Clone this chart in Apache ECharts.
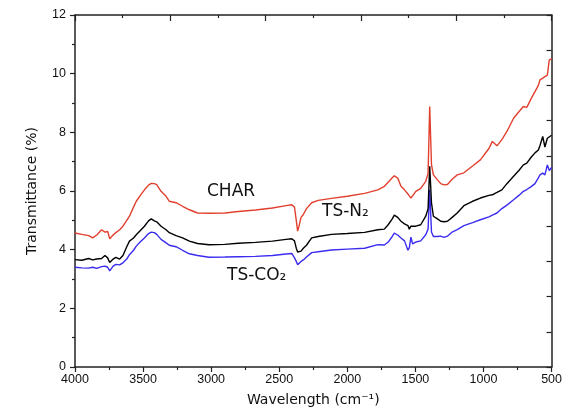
<!DOCTYPE html>
<html>
<head>
<meta charset="utf-8">
<script src="https://cdn.jsdelivr.net/npm/echarts@6/dist/echarts.min.js"></script>
<style>
  html, body { margin: 0; padding: 0; background: #fff; }
  #main { width: 565px; height: 417px; }
</style>
</head>
<body>
<div id="main"></div>
<script>
// wavenumber (cm-1)
var wavenumbers = [4000, 3950, 3900, 3870, 3840, 3805, 3780, 3760, 3745, 3720, 3700, 3672, 3648, 3620, 3600,
  3570, 3550, 3520, 3490, 3460, 3440, 3417, 3400, 3368, 3331, 3307, 3258, 3210, 3160, 3100, 3016,
  2900, 2800, 2675, 2550, 2450, 2408, 2388, 2375, 2365, 2355, 2340, 2323, 2300, 2262, 2214, 2116,
  2000, 1873, 1776, 1728, 1700, 1670, 1655, 1630, 1606, 1580, 1570, 1555, 1545, 1533, 1521, 1497,
  1461, 1424, 1407, 1395, 1382, 1368, 1338, 1314, 1290, 1265, 1230, 1193, 1144, 1080, 1023, 960,
  935, 901, 865, 828, 779, 740, 707, 682, 650, 622, 597, 585, 565, 549, 531, 517, 500];

var charValues = [4.57, 4.52, 4.48, 4.40, 4.50, 4.68, 4.60, 4.62, 4.37, 4.50, 4.58, 4.68, 4.80, 5.00, 5.14,
  5.45, 5.65, 5.85, 6.04, 6.20, 6.26, 6.25, 6.22, 5.99, 5.82, 5.65, 5.60, 5.48, 5.36, 5.25, 5.24,
  5.25, 5.30, 5.35, 5.42, 5.50, 5.53, 5.45, 5.00, 4.63, 4.80, 5.10, 5.20, 5.40, 5.60, 5.68, 5.75,
  5.82, 5.92, 6.04, 6.16, 6.30, 6.45, 6.52, 6.44, 6.16, 6.04, 6.04, 5.90, 5.85, 5.76, 5.80, 5.99,
  6.09, 6.33, 6.60, 8.88, 6.90, 6.55, 6.38, 6.25, 6.21, 6.22, 6.40, 6.55, 6.62, 6.85, 7.06, 7.45,
  7.69, 7.54, 7.75, 8.03, 8.48, 8.70, 8.88, 8.85, 9.15, 9.39, 9.60, 9.79, 9.85, 9.90, 9.95, 10.47, 10.50];

var n2Values = [3.66, 3.64, 3.70, 3.65, 3.68, 3.70, 3.80, 3.72, 3.56, 3.68, 3.74, 3.68, 3.80, 4.10, 4.29,
  4.40, 4.51, 4.65, 4.80, 4.98, 5.05, 4.98, 4.95, 4.80, 4.68, 4.58, 4.48, 4.40, 4.29, 4.21, 4.17,
  4.18, 4.22, 4.25, 4.29, 4.35, 4.37, 4.30, 4.05, 3.92, 3.89, 3.95, 4.05, 4.15, 4.40, 4.45, 4.52,
  4.55, 4.59, 4.68, 4.70, 4.85, 5.05, 5.18, 5.10, 4.97, 4.88, 4.90, 4.82, 4.70, 4.80, 4.74, 4.80,
  4.85, 5.14, 5.40, 6.84, 5.60, 5.14, 5.05, 4.97, 4.95, 4.97, 5.10, 5.25, 5.50, 5.65, 5.76, 5.85,
  5.87, 5.95, 6.04, 6.25, 6.50, 6.70, 6.89, 6.95, 7.15, 7.30, 7.40, 7.55, 7.86, 7.50, 7.80, 7.86, 7.90];

var co2Values = [3.40, 3.38, 3.37, 3.40, 3.36, 3.42, 3.44, 3.40, 3.28, 3.44, 3.50, 3.48, 3.55, 3.68, 3.83,
  3.98, 4.12, 4.27, 4.40, 4.55, 4.60, 4.58, 4.52, 4.35, 4.23, 4.15, 4.10, 3.98, 3.86, 3.80, 3.74,
  3.75, 3.76, 3.77, 3.80, 3.85, 3.87, 3.72, 3.60, 3.49, 3.52, 3.60, 3.65, 3.75, 3.90, 3.93, 3.99,
  4.02, 4.05, 4.17, 4.16, 4.26, 4.45, 4.56, 4.50, 4.40, 4.30, 4.25, 3.98, 4.06, 4.43, 4.20, 4.26,
  4.30, 4.51, 4.70, 6.04, 4.60, 4.45, 4.45, 4.46, 4.42, 4.46, 4.60, 4.68, 4.82, 4.92, 5.02, 5.12,
  5.18, 5.25, 5.40, 5.52, 5.70, 5.85, 5.99, 6.05, 6.15, 6.25, 6.45, 6.55, 6.61, 6.55, 6.89, 6.70, 6.80];

var seriesNames = ['CHAR', 'TS-N₂', 'TS-CO₂'];
var seriesColors = ['#e2402f', '#000000', '#3b2cf0'];

function pairs(vals) {
  return wavenumbers.map(function (w, i) { return [w, vals[i]]; });
}

var font = 'Liberation Sans';
var titleFont = 'DejaVu Sans';
var axisColor = '#222';

var myChart = echarts.init(document.getElementById('main'));

var lines = [charValues, n2Values, co2Values].map(function (vals, i) {
  return {
    name: seriesNames[i],
    type: 'line',
    xAxisIndex: 0,
    yAxisIndex: 0,
    data: pairs(vals),
    showSymbol: false,
    symbol: 'none',
    lineStyle: { color: seriesColors[i], width: 1.4 },
    itemStyle: { color: seriesColors[i] },
    z: 3 - i
  };
});
// empty series so the frame axes (top / right) get drawn with their ticks
lines.push({ type: 'line', xAxisIndex: 1, yAxisIndex: 1, data: [], silent: true });

var option = {
  backgroundColor: '#fff',
  animation: false,
  grid: { left: 75, right: 9, top: 15, bottom: 50 },
  xAxis: [
    {
      type: 'value',
      inverse: true,
      min: 500,
      max: 4000,
      interval: 500,
      position: 'bottom',
      name: 'Wavelength (cm⁻¹)',
      nameLocation: 'middle',
      nameGap: 26,
      nameTextStyle: { fontFamily: titleFont, fontSize: 14, color: '#111' },
      axisLine: { show: true, onZero: false, lineStyle: { color: axisColor, width: 1.5 } },
      axisTick: { show: true, inside: false, length: 5, lineStyle: { color: axisColor, width: 1.2 } },
      minorTick: { show: true, splitNumber: 2, length: 3, lineStyle: { color: axisColor, width: 1.2 } },
      axisLabel: {
        fontFamily: font, fontSize: 12.5, color: '#111', margin: 6,
        formatter: function (v) { return String(v); }
      },
      splitLine: { show: false }
    },
    {
      type: 'value',
      min: 0,
      max: 5,
      interval: 1,
      position: 'top',
      axisLine: { show: true, onZero: false, lineStyle: { color: axisColor, width: 1.5 } },
      axisTick: { show: true, inside: true, length: 6, lineStyle: { color: axisColor, width: 1.2 } },
      minorTick: { show: true, splitNumber: 2, length: 3, lineStyle: { color: axisColor, width: 1.2 } },
      axisLabel: { show: false },
      splitLine: { show: false }
    }
  ],
  yAxis: [
    {
      type: 'value',
      min: 0,
      max: 12,
      interval: 2,
      position: 'left',
      name: 'Transmittance (%)',
      nameLocation: 'middle',
      nameGap: 36,
      nameTextStyle: { fontFamily: titleFont, fontSize: 14, color: '#111' },
      axisLine: { show: true, onZero: false, lineStyle: { color: axisColor, width: 1.5 } },
      axisTick: { show: true, inside: false, length: 5, lineStyle: { color: axisColor, width: 1.2 } },
      minorTick: { show: true, splitNumber: 2, length: 3, lineStyle: { color: axisColor, width: 1.2 } },
      axisLabel: { fontFamily: font, fontSize: 12.5, color: '#111', margin: 9 },
      splitLine: { show: false }
    },
    {
      type: 'value',
      min: 0,
      max: 10,
      interval: 1,
      position: 'right',
      axisLine: { show: true, onZero: false, lineStyle: { color: axisColor, width: 1.5 } },
      axisTick: { show: true, inside: true, length: 5, lineStyle: { color: axisColor, width: 1.2 } },
      axisLabel: { show: false },
      splitLine: { show: false }
    }
  ],
  series: lines,
  graphic: [
    { type: 'text', left: 207, top: 183, style: { text: 'CHAR', fontFamily: titleFont, fontSize: 17, fill: '#111' } },
    { type: 'text', left: 322, top: 203, style: { text: 'TS-N₂', fontFamily: titleFont, fontSize: 17, fill: '#111' } },
    { type: 'text', left: 227, top: 267, style: { text: 'TS-CO₂', fontFamily: titleFont, fontSize: 17, fill: '#111' } }
  ]
};
myChart.setOption(option);
</script>
</body>
</html>
